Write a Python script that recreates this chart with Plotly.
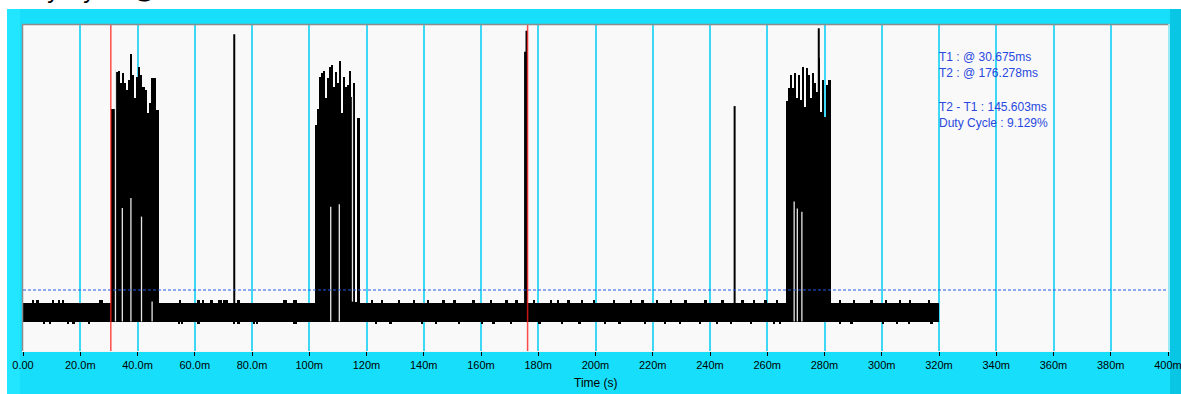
import numpy as np
import plotly.graph_objects as go

# ---------------- data (time in ms, amplitude in arbitrary units 0..100) ----------------
tick_ms = [0, 20, 40, 60, 80, 100, 120, 140, 160, 180, 200, 220, 240, 260, 280, 300, 320, 340, 360, 380, 400]
tick_labels = ["0.00", "20.0m", "40.0m", "60.0m", "80.0m", "100m", "120m", "140m", "160m", "180m", "200m",
               "220m", "240m", "260m", "280m", "300m", "320m", "340m", "360m", "380m", "400m"]

signal_start_ms = 0.0
signal_end_ms = 320.0
band_lo = 9.0
band_hi = 14.6
bump_up_top = 15.5
bump_dn_bot = 8.2
threshold = 18.65

t1_ms = 30.675
t2_ms = 176.278

# bursts: column start times, column peak values, burst end time
burst1_t = [30.9, 32.6, 33.4, 34.0, 34.6, 35.2, 36.1, 36.7, 37.5, 38.2, 38.8, 39.6, 40.3, 41.0, 41.7,
            42.5, 43.3, 44.3, 44.9, 45.4, 46.6]
burst1_v = [74.0, 85.4, 85.6, 82.0, 85.0, 82.1, 79.8, 82.9, 90.8, 84.4, 77.4, 83.9, 86.9, 84.4, 80.8,
            79.8, 72.8, 75.8, 83.5, 83.5, 73.7]
burst1_end = 47.4

burst2_t = [102.1, 102.7, 103.4, 104.1, 104.8, 105.5, 106.2, 106.9, 107.6, 108.3, 109.0, 109.7, 110.4,
            111.1, 111.8, 112.5, 113.2, 113.9, 114.6, 115.3, 116.0, 116.8]
burst2_v = [69.1, 74.0, 83.8, 85.0, 85.7, 77.4, 83.5, 86.9, 87.5, 80.8, 85.4, 82.0, 88.8,
            72.8, 83.9, 80.8, 81.3, 85.6, 77.8, 82.0, 15.1, 71.3]
burst2_end = 117.6

burst3_t = [266.4, 267.1, 267.8, 268.5, 269.2, 269.9, 270.6, 271.3, 272.0, 272.7, 273.4, 274.1, 274.8,
            275.5, 276.2, 276.9, 277.6, 278.3, 279.0, 279.7, 280.4, 281.1]
burst3_v = [76.5, 80.3, 84.4, 80.3, 84.9, 77.3, 84.4, 76.8, 86.9, 74.7, 86.5, 84.4, 77.3,
            85.1, 81.9, 79.3, 89.5, 73.2, 82.9, 71.7, 81.3, 82.9]
burst3_end = 282.1

# dropouts inside bursts (time, lowest value, highest value)
drop_t = [32.3, 34.7, 37.7, 41.4, 45.1, 107.5, 110.5, 115.1, 269.4, 270.5, 272.1]
drop_lo = [9.0, 9.0, 9.0, 9.0, 9.0, 9.0, 9.0, 15.1, 9.0, 9.0, 9.0]
drop_hi = [86.0, 43.7, 46.8, 41.1, 15.1, 44.1, 44.9, 77.8, 45.7, 43.6, 42.6]

# isolated spikes (time, peak)
spike_t = [73.8, 175.4, 175.9, 248.6, 278.0]
spike_v = [96.9, 91.5, 97.9, 74.9, 98.7]

# small noise bumps on the baseline (start, end)
bump_up_s = [3.0, 4.4, 10.0, 12.1, 13.5, 26.5, 54.4, 60.8, 62.4, 65.2, 68.0, 69.8, 74.7, 90.7, 94.2,
             121.5, 125.0, 131.0, 136.2, 141.0, 146.5, 150.3, 157.0, 163.0, 168.5, 172.0, 178.2, 184.0,
             186.5, 190.2, 195.0, 199.0, 206.0, 212.0, 216.0, 221.0, 226.0, 231.0, 238.0, 244.0, 251.0,
             255.0, 259.0, 263.0, 285.0, 290.0, 296.0, 301.0, 306.0, 309.5, 316.0]
bump_up_e = [3.7, 5.5, 10.7, 12.8, 14.2, 27.8, 55.1, 61.7, 63.1, 66.3, 69.4, 71.5, 75.7, 92.1, 95.6,
             122.3, 125.8, 131.8, 137.0, 141.8, 147.3, 151.1, 157.8, 163.8, 169.3, 172.8, 179.0, 184.8,
             187.3, 191.0, 195.8, 199.8, 206.8, 212.8, 216.8, 221.8, 226.8, 231.8, 238.8, 244.8, 251.8,
             255.8, 259.8, 263.8, 285.8, 290.8, 296.8, 301.8, 306.8, 310.3, 316.8]
bump_dn_s = [6.9, 9.0, 15.3, 17.0, 22.6, 54.0, 55.2, 60.8, 73.3, 74.9, 80.2, 81.3, 94.2,
             123.0, 128.0, 139.0, 144.0, 152.0, 160.0, 164.0, 170.0, 180.0, 188.0, 194.0, 203.0, 208.0,
             217.0, 224.0, 229.0, 236.0, 242.0, 247.0, 254.0, 262.0, 264.0, 285.0, 289.0, 300.0, 305.0,
             309.0, 317.0]
bump_dn_e = [7.6, 9.8, 16.0, 18.1, 23.3, 54.8, 55.8, 61.7, 74.0, 75.7, 80.9, 82.0, 95.6,
             123.8, 128.8, 139.8, 144.8, 152.8, 160.8, 164.8, 170.8, 180.8, 188.8, 194.8, 203.8, 208.8,
             217.8, 224.8, 229.8, 236.8, 242.8, 247.8, 254.8, 262.8, 264.8, 285.8, 289.8, 300.8, 305.8,
             309.8, 317.8]

readout = ["T1 : @ 30.675ms", "T2 : @ 176.278ms", "T2 - T1 : 145.603ms", "Duty Cycle : 9.129%"]

# ---------------- layout geometry ----------------
W, H = 1181, 394
ML, MR, MT, MB = 23, 13, 24, 43
PW, PH = W - ML - MR, H - MT - MB


def px2x(px):
    return (px - ML) / PW


def px2y(py):
    return (H - MB - py) / PH


def s(ms):
    return np.asarray(ms, dtype=float) / 1000.0


fig = go.Figure()

# baseline band
fig.add_trace(go.Bar(x=s([(signal_start_ms + signal_end_ms) / 2]), width=s([signal_end_ms - signal_start_ms]),
                     base=[band_lo], y=[band_hi - band_lo], marker=dict(color="black", line=dict(width=0)),
                     showlegend=False, hoverinfo="skip"))

# noise bumps
bus, bue = np.array(bump_up_s), np.array(bump_up_e)
fig.add_trace(go.Bar(x=s((bus + bue) / 2), width=s(bue - bus), base=[band_hi - 0.2] * len(bus),
                     y=[bump_up_top - band_hi + 0.2] * len(bus), marker=dict(color="black", line=dict(width=0)),
                     showlegend=False, hoverinfo="skip"))
bds, bde = np.array(bump_dn_s), np.array(bump_dn_e)
fig.add_trace(go.Bar(x=s((bds + bde) / 2), width=s(bde - bds), base=[bump_dn_bot] * len(bds),
                     y=[band_lo - bump_dn_bot + 0.2] * len(bds), marker=dict(color="black", line=dict(width=0)),
                     showlegend=False, hoverinfo="skip"))

# bursts
for bt, bv, be in [(burst1_t, burst1_v, burst1_end), (burst2_t, burst2_v, burst2_end),
                   (burst3_t, burst3_v, burst3_end)]:
    edges = np.array(list(bt) + [be])
    widths = np.diff(edges)
    mids = edges[:-1] + widths / 2
    fig.add_trace(go.Bar(x=s(mids), width=s(widths), base=[band_lo] * len(bv),
                         y=np.array(bv) - band_lo, marker=dict(color="black", line=dict(width=0)),
                         showlegend=False, hoverinfo="skip"))

# dropouts
dx, dy = [], []
for t, lo, hi in zip(drop_t, drop_lo, drop_hi):
    dx += [t / 1000, t / 1000, None]
    dy += [lo, hi, None]
fig.add_trace(go.Scatter(x=dx, y=dy, mode="lines", line=dict(color="#E6E6E6", width=1.3),
                         showlegend=False, hoverinfo="skip"))

# spikes
sx, sy = [], []
for t, v in zip(spike_t, spike_v):
    sx += [t / 1000, t / 1000, None]
    sy += [band_lo, v, None]
fig.add_trace(go.Scatter(x=sx, y=sy, mode="lines", line=dict(color="black", width=2),
                         showlegend=False, hoverinfo="skip"))

# threshold
fig.add_trace(go.Scatter(x=s([0, 400]), y=[threshold, threshold], mode="lines",
                         line=dict(color="#2458E8", width=1, dash="3px,2px"),
                         showlegend=False, hoverinfo="skip"))

# cursors
for tc in [t1_ms, t2_ms]:
    fig.add_trace(go.Scatter(x=s([tc, tc]), y=[0, 100], mode="lines",
                             line=dict(color="rgba(255,25,25,0.78)", width=1.5),
                             showlegend=False, hoverinfo="skip"))

shapes = [
    # white page strips
    dict(type="rect", xref="paper", yref="paper", x0=px2x(0), x1=px2x(W), y0=px2y(0), y1=px2y(9),
         fillcolor="white", line_width=0, layer="below"),
    dict(type="rect", xref="paper", yref="paper", x0=px2x(0), x1=px2x(7), y0=px2y(0), y1=px2y(H),
         fillcolor="white", line_width=0, layer="below"),
    # bevel strips
    dict(type="rect", xref="paper", yref="paper", x0=px2x(7), x1=px2x(20), y0=px2y(9), y1=px2y(H),
         fillcolor="#22E6FF", line_width=0, layer="below"),
    dict(type="rect", xref="paper", yref="paper", x0=px2x(1170), x1=px2x(W), y0=px2y(9), y1=px2y(H),
         fillcolor="#08C6E4", line_width=0, layer="below"),
    # sunken plot border
    dict(type="line", xref="paper", yref="paper", x0=px2x(22), x1=px2x(1169), y0=px2y(24.5), y1=px2y(24.5),
         line=dict(color="#8C8C8C", width=1.5), layer="above"),
    dict(type="line", xref="paper", yref="paper", x0=px2x(22.5), x1=px2x(22.5), y0=px2y(24), y1=px2y(351),
         line=dict(color="#8C8C8C", width=1.5), layer="above"),
    dict(type="line", xref="paper", yref="paper", x0=px2x(22), x1=px2x(1169.5), y0=px2y(351.5), y1=px2y(351.5),
         line=dict(color="#F4F4F4", width=1.2), layer="above"),
    dict(type="line", xref="paper", yref="paper", x0=px2x(1169), x1=px2x(1169), y0=px2y(24), y1=px2y(352),
         line=dict(color="#F4F4F4", width=1.2), layer="above"),
]

annotations = [
    dict(text="Time (s)", xref="paper", yref="paper", x=0.5, y=px2y(383), xanchor="center", yanchor="middle",
         showarrow=False, font=dict(family="Liberation Sans, Arial, sans-serif", size=12, color="black")),
    dict(text="Duty Cycle @", xref="paper", yref="paper", x=px2x(8), y=px2y(5), xanchor="left",
         yanchor="bottom", showarrow=False,
         font=dict(family="Liberation Sans, Arial, sans-serif", size=24, color="black")),
]
for line_txt, py in zip(readout, [57.3, 73.3, 106.7, 122.7]):
    annotations.append(dict(text=line_txt, xref="paper", yref="paper", x=px2x(936.5), y=px2y(py),
                            xanchor="left", yanchor="middle", showarrow=False,
                            font=dict(family="Liberation Sans, Arial, sans-serif", size=12, color="#2848E0")))

fig.update_layout(
    width=W, height=H,
    margin=dict(l=ML, r=MR, t=MT, b=MB, pad=0, autoexpand=False),
    paper_bgcolor="#17DFFB",
    plot_bgcolor="#F9F9F9",
    barmode="overlay",
    bargap=0,
    showlegend=False,
    shapes=shapes,
    annotations=annotations,
    xaxis=dict(range=[-0.000001, 0.400001], tickvals=s(tick_ms), ticktext=tick_labels, showgrid=True,
               gridcolor="#3CD8F5", gridwidth=1.5, zeroline=False, showline=False,
               ticks="outside", ticklen=4, tickcolor="black", tickwidth=1,
               ticklabeloverflow="allow", automargin=False,
               tickfont=dict(family="Liberation Sans, Arial, sans-serif", size=11, color="black"),
               fixedrange=True),
    yaxis=dict(range=[0, 100], showgrid=False, zeroline=False, showticklabels=False, ticks="",
               showline=False, fixedrange=True, automargin=False),
)

fig.write_html("out.html", config={"displayModeBar": False},
               post_script="document.body.style.margin='0px';document.body.style.overflow='hidden';")
